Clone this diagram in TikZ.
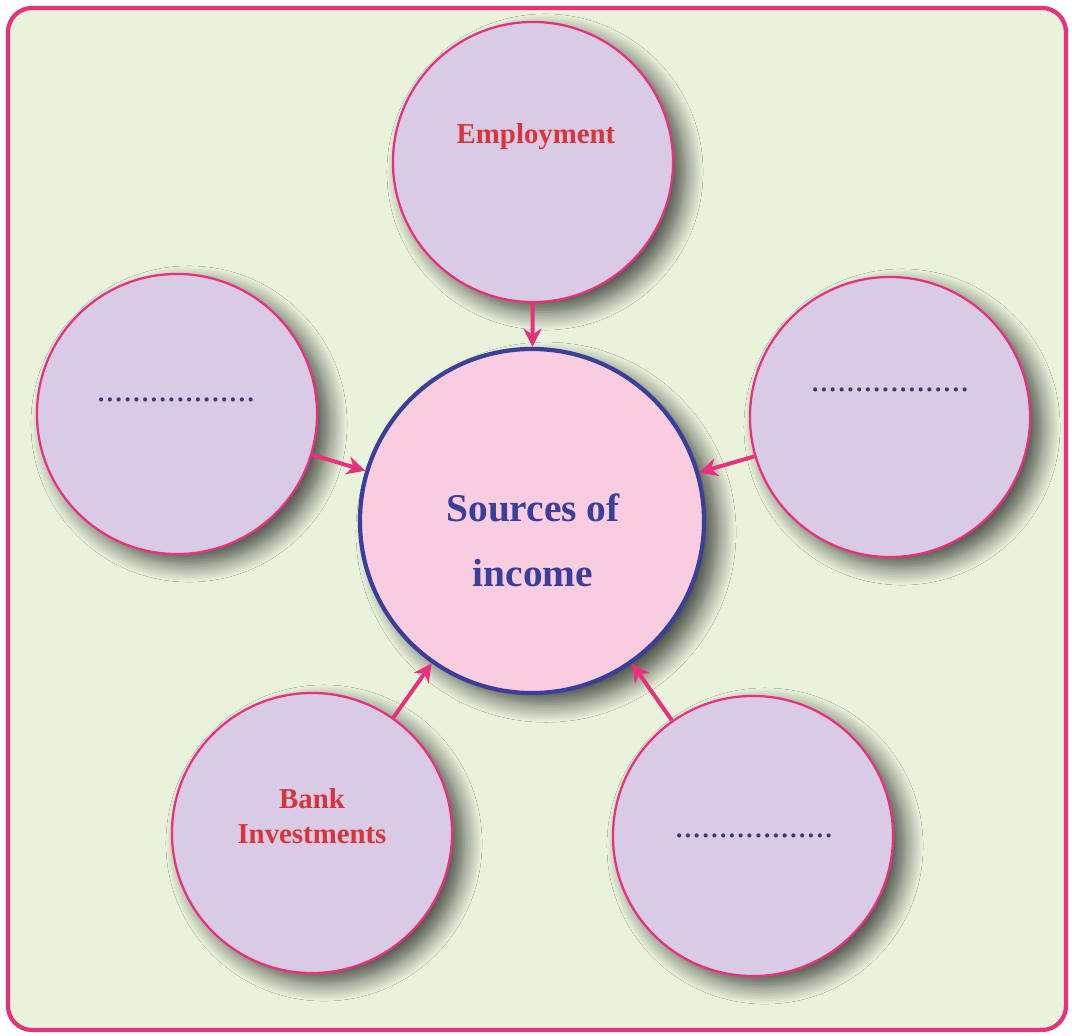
\documentclass[tikz,border=0pt]{standalone}
\usepackage{fontspec}
\setmainfont{Liberation Serif}
\usetikzlibrary{arrows.meta,shadows.blur}
\definecolor{bgreen}{HTML}{E9F3DC}
\definecolor{rimpink}{HTML}{E8317A}
\definecolor{lilac}{HTML}{D9CBE6}
\definecolor{rosy}{HTML}{F9CCE0}
\definecolor{navy}{HTML}{3A409A}
\definecolor{brick}{HTML}{D8353A}
\definecolor{dotink}{HTML}{3B3A6E}
\tikzset{
	src/.style={circle,draw=rimpink,line width=1.6pt,fill=lilac,minimum size=7cm,
		blur shadow={shadow xshift=0.3cm,shadow yshift=-0.25cm,shadow blur radius=0.45cm,
			shadow blur steps=12,shadow opacity=70}},
	hub/.style={circle,draw=navy,line width=3pt,fill=rosy,minimum size=8.6cm,
		blur shadow={shadow xshift=0.35cm,shadow yshift=-0.28cm,shadow blur radius=0.45cm,
			shadow blur steps=12,shadow opacity=70}},
	lbl/.style={text=brick,align=center,font=\fontsize{20.5}{25}\selectfont\bfseries},
	blank/.style={text=dotink,font=\fontsize{25}{30}\selectfont},
	feed/.style={draw=rimpink,line width=2.8pt,-{Stealth[length=13pt,width=13pt]}}
}
\begin{document}
\begin{tikzpicture}[x=0.025cm,y=-0.025cm]
	%背景
	\useasboundingbox (0,0) rectangle (1072,1036);
	\draw[rimpink,line width=3pt,fill=bgreen,rounded corners=0.6cm] (8,8) rectangle (1066,1030);
	%圆
	\node[hub] (inc) at (532,521) {};
	\node[src] (emp) at (533,162) {};
	\node[src] (lft) at (177,414) {};
	\node[src] (rgt) at (890,417) {};
	\node[src] (bnk) at (312,833) {};
	\node[src] (brt) at (753,836) {};
	%文字
	\node[text=navy,align=center,font=\fontsize{28}{46}\selectfont\bfseries]
	(inct) at (533,540) {Sources of\\income};
	\node[lbl] (empt) at (536,137) {Employment};
	\node[lbl] (bnkt) at (312,816) {Bank\\Investments};
	\node[blank] (lftt) at (176,400) {..................};
	\node[blank] (rgtt) at (890,390) {..................};
	\node[blank] (brtt) at (754,836) {..................};
	%箭头
	\draw[feed] (emp) -- (inc);
	\draw[feed] (lft) -- (inc);
	\draw[feed] (rgt) -- (inc);
	\draw[feed] (bnk) -- (inc);
	\draw[feed] (brt) -- (inc);
\end{tikzpicture}
\end{document}
